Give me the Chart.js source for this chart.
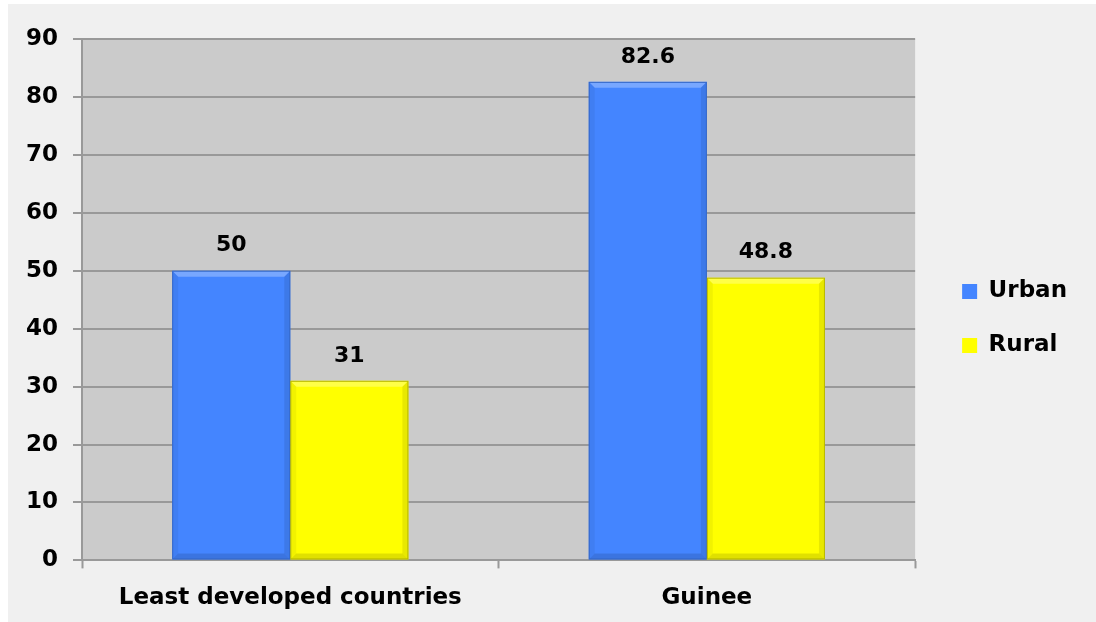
<!DOCTYPE html>
<html>
<head>
<meta charset="utf-8">
<script src="https://cdn.jsdelivr.net/npm/chart.js@4.4.1/dist/chart.umd.min.js"></script>
<style>
  html, body { margin: 0; padding: 0; background: #ffffff; }
  #wrap { position: absolute; left: 8px; top: 4px; width: 1088px; height: 618px; background: #f0f0f0; }
  canvas { display: block; }
</style>
</head>
<body>
<div id="wrap"><canvas id="c" width="1088" height="618"></canvas></div>
<script>
const categories = ['Least developed countries', 'Guinee'];
const urbanValues = [50, 82.6];
const ruralValues = [31, 48.8];
const seriesNames = ['Urban', 'Rural'];
const yTicks = [0, 10, 20, 30, 40, 50, 60, 70, 80, 90];

const FONT = "'DejaVu Sans', sans-serif";

const plotBg = {
  id: 'plotBg',
  beforeDraw(chart) {
    const a = chart.chartArea, ctx = chart.ctx;
    ctx.save();
    ctx.fillStyle = '#cbcbcb';
    ctx.fillRect(a.left, a.top, a.right - a.left, a.bottom - a.top);
    ctx.restore();
  }
};

const legendShift = {
  id: 'legendShift',
  afterLayout(chart) {
    if (chart.legend) {
      chart.legend.left += 16; chart.legend.right += 16;
      chart.legend.top -= 15; chart.legend.bottom -= 15;
    }
  }
};

const bevel = {
  id: 'bevel',
  afterDatasetsDraw(chart) {
    const ctx = chart.ctx;
    chart.data.datasets.forEach((ds, i) => {
      const meta = chart.getDatasetMeta(i);
      meta.data.forEach(el => {
        const l = el.x - el.width / 2, r = el.x + el.width / 2, t = el.y, b = el.base;
        const d = 6;
        ctx.save();
        ctx.fillStyle = 'rgba(255,255,255,0.28)';
        ctx.beginPath();
        ctx.moveTo(l, t); ctx.lineTo(r, t); ctx.lineTo(r - d, t + d); ctx.lineTo(l + d, t + d); ctx.closePath(); ctx.fill();
        ctx.fillStyle = 'rgba(0,0,0,0.05)';
        ctx.beginPath();
        ctx.moveTo(l, t); ctx.lineTo(l + d, t + d); ctx.lineTo(l + d, b - d); ctx.lineTo(l, b); ctx.closePath(); ctx.fill();
        ctx.fillStyle = 'rgba(0,0,0,0.09)';
        ctx.beginPath();
        ctx.moveTo(r, t); ctx.lineTo(r - d, t + d); ctx.lineTo(r - d, b - d); ctx.lineTo(r, b); ctx.closePath(); ctx.fill();
        ctx.fillStyle = 'rgba(0,0,0,0.12)';
        ctx.beginPath();
        ctx.moveTo(l, b); ctx.lineTo(l + d, b - d); ctx.lineTo(r - d, b - d); ctx.lineTo(r, b); ctx.closePath(); ctx.fill();
        ctx.strokeStyle = ds.borderColor; ctx.lineWidth = 1;
        ctx.strokeRect(l + 0.5, t + 0.5, r - l - 1, b - t - 1);
        ctx.restore();
      });
    });
  }
};

const dataLabels = {
  id: 'dataLabels',
  afterDatasetsDraw(chart) {
    const ctx = chart.ctx;
    ctx.save();
    ctx.font = "bold 22px " + FONT;
    ctx.fillStyle = '#000';
    ctx.textAlign = 'center';
    ctx.textBaseline = 'middle';
    chart.data.datasets.forEach((ds, i) => {
      chart.getDatasetMeta(i).data.forEach((el, j) => {
        ctx.fillText(String(ds.data[j]), el.x, el.y - 25);
      });
    });
    ctx.restore();
  }
};

new Chart(document.getElementById('c'), {
  type: 'bar',
  data: {
    labels: categories,
    datasets: [
      { label: seriesNames[0], data: urbanValues, backgroundColor: '#4485ff', borderColor: '#3568c8', borderWidth: 0 },
      { label: seriesNames[1], data: ruralValues, backgroundColor: '#ffff00', borderColor: '#b8b800', borderWidth: 0 }
    ]
  },
  options: {
    responsive: false,
    animation: false,
    devicePixelRatio: 1,
    layout: { padding: { left: 3, top: 35, right: 35, bottom: -6 } },
    datasets: { bar: { barPercentage: 1.0, categoryPercentage: 0.567 } },
    plugins: {
      legend: {
        position: 'right',
        labels: {
          color: '#000',
          font: { family: FONT, size: 23, weight: 'bold' },
          boxWidth: 15, boxHeight: 15, padding: 31
        }
      },
      tooltip: { enabled: false }
    },
    scales: {
      x: {
        grid: { drawOnChartArea: false, drawTicks: true, tickLength: 8, color: '#999', tickColor: '#999', tickWidth: 2, offset: true },
        border: { color: '#999', width: 2 },
        ticks: { color: '#000', font: { family: FONT, size: 23, weight: 'bold' }, padding: 16, maxRotation: 0 }
      },
      y: {
        min: 0, max: 90,
        afterBuildTicks(scale) { scale.ticks = yTicks.map(v => ({ value: v })); },
        grid: { color: '#999', lineWidth: 2, tickLength: 9, tickColor: '#999', tickWidth: 2 },
        border: { color: '#999', width: 2 },
        ticks: { color: '#000', font: { family: FONT, size: 23, weight: 'bold' }, padding: 15 }
      }
    }
  },
  plugins: [plotBg, legendShift, bevel, dataLabels]
});
</script>
</body>
</html>
